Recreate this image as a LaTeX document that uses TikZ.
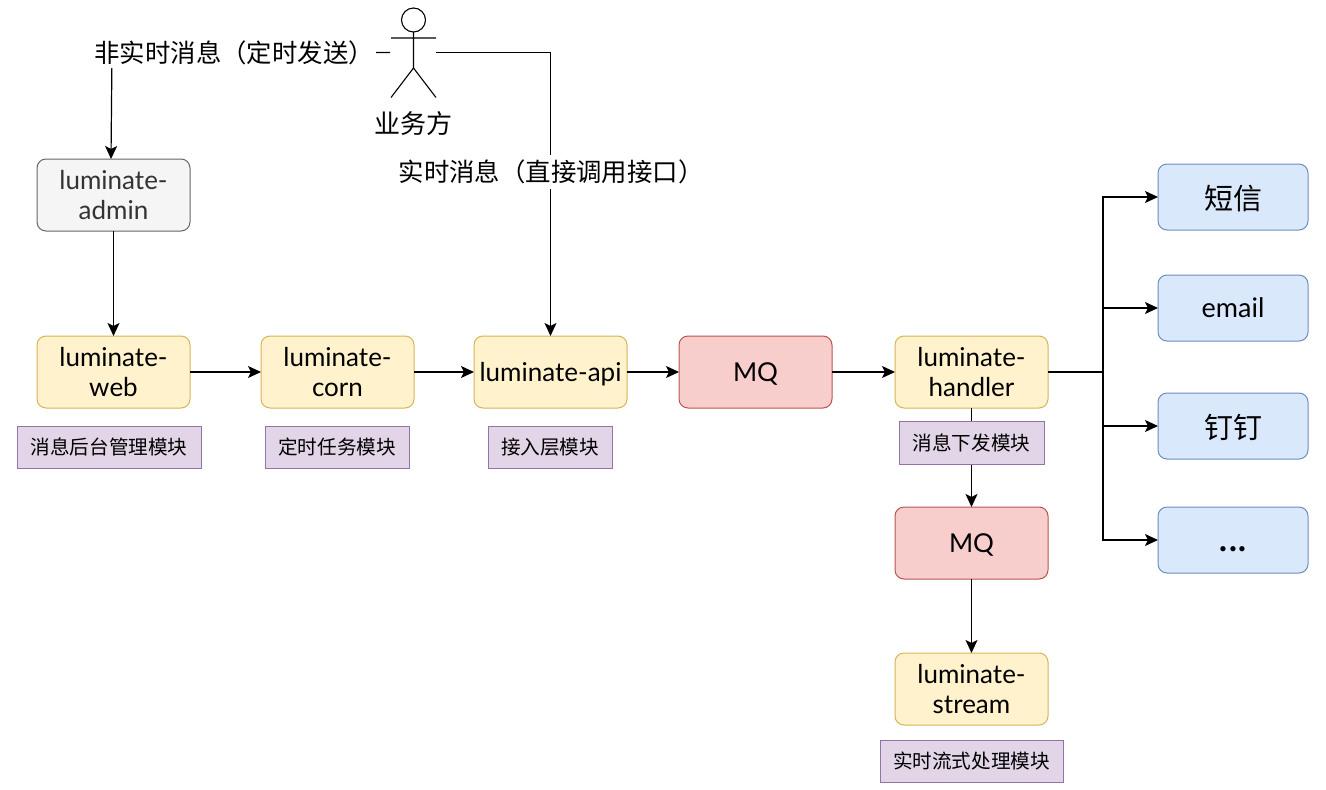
\documentclass[tikz,border=0pt]{standalone}
\usepackage{fontspec}
\setmainfont{Lato}
\newfontfamily\cjk{Noto Sans CJK SC}
\usetikzlibrary{arrows.meta}
\newcommand{\lowered}[2]{\raisebox{-#1}[\height][\depth]{#2}}
\tikzset{
  x=1pt,y=-1pt,
  box/.style={draw,rounded corners=9pt,line width=1pt,minimum width=153pt,minimum height=72pt,inner sep=0pt,outer sep=0pt,align=center,text=black,font=\fontsize{26}{30}\selectfont},
  yellowbox/.style={box,fill=fbox,draw=dbox},
  greybox/.style={box,fill=gfill,draw=gdraw,text=black!80},
  redbox/.style={box,fill=rfill,draw=rdraw},
  bluebox/.style={box,fill=bfill,draw=bdraw,minimum width=150pt,minimum height=66pt,font=\fontsize{29}{34}\selectfont\cjk},
  tagbox/.style={draw=pdraw,fill=pfill,line width=1pt,minimum height=42pt,inner sep=0pt,outer sep=0pt,font=\fontsize{19.6}{24}\selectfont\cjk},
  elabel/.style={fill=white,inner sep=0pt,minimum height=30pt,font=\fontsize{25.4}{30}\selectfont\cjk},
  link/.style={draw=black,line width=1.2pt,-{Stealth[length=13pt,width=12pt,inset=3pt]}},
  plain/.style={draw=black,line width=1.2pt},
  stick/.style={draw=black,line width=1.1pt}
}
\definecolor{fbox}{HTML}{FFF2CC}\definecolor{dbox}{HTML}{D6B656}
\definecolor{gfill}{HTML}{F5F5F5}\definecolor{gdraw}{HTML}{666666}
\definecolor{rfill}{HTML}{F8CECC}\definecolor{rdraw}{HTML}{B85450}
\definecolor{bfill}{HTML}{DAE8FC}\definecolor{bdraw}{HTML}{6C8EBF}
\definecolor{pfill}{HTML}{E1D5E7}\definecolor{pdraw}{HTML}{9673A6}
\begin{document}
\begin{tikzpicture}
\useasboundingbox (0,0) rectangle (1326,790);
% nodes
\node[greybox] (admin) at (113.5,195) {luminate-\\admin};
\node[yellowbox] (web) at (113.5,372) {luminate-\\web};
\node[yellowbox] (corn) at (337.5,372) {luminate-\\corn};
\node[yellowbox] (api) at (550.5,372) {\lowered{2pt}{luminate-api}};
\node[redbox] (mqa) at (755.5,372) {\lowered{2pt}{MQ}};
\node[yellowbox] (handler) at (971.5,372) {luminate-\\handler};
\node[redbox] (mqb) at (971.5,543) {\lowered{2pt}{MQ}};
\node[yellowbox] (stream) at (971.5,689) {luminate-\\stream};
\node[bluebox] (sms) at (1233,197) {\lowered{1.5pt}{短信}};
\node[bluebox,font=\fontsize{27}{32}\selectfont] (email) at (1233,308) {email};
\node[bluebox] (ding) at (1233,426) {\lowered{1pt}{钉钉}};
\node[bluebox,font=\fontsize{42}{46}\selectfont] (more) at (1233,540) {\lowered{9pt}{...}};
% actor
\draw[stick] (413.5,20) circle (12);
\draw[stick] (413.5,32) -- (413.5,68) (391,38) -- (436,38) (391,97.5) -- (413.5,68) -- (436,97.5);
\node[inner sep=0pt,font=\fontsize{26}{30}\selectfont\cjk] (actor) at (413.5,124) {业务方};
\coordinate (actorL) at (390,52.5);
\coordinate (actorR) at (436,52.5);
\coordinate (bendL) at (112,52.5);
\coordinate (trunk) at (1103,372);
% connectors
\draw[link] (actorL) -- (bendL) -- ([xshift=-2.5pt]admin.north);
\draw[link] (actorR) -| (api.north);
\draw[link] (admin) -- (web);
\draw[link] (web) -- (corn);
\draw[link] (corn) -- (api);
\draw[link] (api) -- (mqa);
\draw[link] (mqa) -- (handler);
\draw[link] (handler) -- (mqb);
\draw[link] (mqb) -- (stream);
\draw[plain] (handler.east) -- (trunk);
\draw[link] (trunk) |- (sms.west);
\draw[link] (trunk) |- (email.west);
\draw[link] (trunk) |- (ding.west);
\draw[link] (trunk) |- (more.west);
% labels on connectors
\node[elabel,text width=281pt,align=left] (lnon) at (235,53) {非实时消息（定时发送）};
\node[elabel,minimum width=297pt,minimum height=34pt] (lreal) at (551,172) {实时消息（直接调用接口）};
% module tags
\node[tagbox,minimum width=184pt] (t1) at (109,447) {消息后台管理模块};
\node[tagbox,minimum width=144pt] (t2) at (337,447) {定时任务模块};
\node[tagbox,minimum width=124pt] (t3) at (550,447) {接入层模块};
\node[tagbox,minimum width=145pt,minimum height=43pt] (t4) at (971.5,442.5) {消息下发模块};
\node[tagbox,minimum width=183pt] (t5) at (971.5,761) {实时流式处理模块};
\end{tikzpicture}
\end{document}
